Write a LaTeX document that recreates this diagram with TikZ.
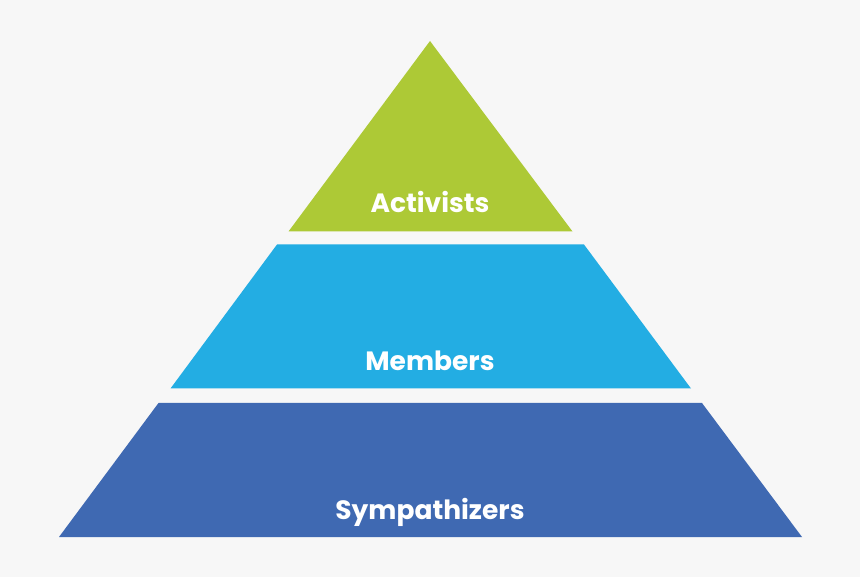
\documentclass[tikz,border=0pt]{standalone}
\usepackage{fontspec}
\setmainfont{Poppins}
\definecolor{bgc}{HTML}{F7F7F7}
\definecolor{greenc}{HTML}{ADC936}
\definecolor{cyanc}{HTML}{23ADE3}
\definecolor{bluec}{HTML}{3F69B2}
\begin{document}
\begin{tikzpicture}[x=1pt,y=-1pt,
  lbl/.style={text=white,font=\fontsize{26.5}{30}\selectfont\bfseries,anchor=base}]
\fill[bgc] (0,0) rectangle (860,577);
\useasboundingbox (0,0) rectangle (860,577);
\fill[greenc] (430,41) -- (572.5,231.5) -- (288.5,231.5) -- cycle;
\fill[cyanc] (277,244.5) -- (584,244.5) -- (691,388.5) -- (170.5,388.5) -- cycle;
\fill[bluec] (158.5,403) -- (702,403) -- (802,537) -- (59,537) -- cycle;
\node[lbl] (act) at (430,213) {Activists};
\node[lbl] (mem) at (430,370.5) {Members};
\node[lbl] (sym) at (430,519.5) {Sympathizers};
\end{tikzpicture}
\end{document}
